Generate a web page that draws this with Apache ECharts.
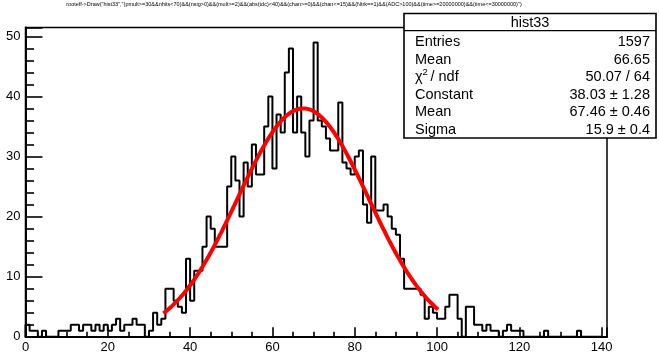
<!DOCTYPE html>
<html><head><meta charset="utf-8">
<script src="https://cdn.jsdelivr.net/npm/echarts@6/dist/echarts.min.js"></script>
<style>html,body{margin:0;padding:0;background:#fff}#c{width:659px;height:354px}</style>
</head><body><div id="c"></div>
<script>
const chartTitle = 'rooteff->Draw("hist33","(pmult>=30&&nhits<70)&&(nsig>0)&&(mult>=2)&&(abs(tdc)<40)&&(chan>=0)&&(chan<=15)&&(Ntrk==1)&&(ADC>100)&&(time>=20000000)&&(time<=30000000)")';
const binLowEdge = 0;
const binWidth = 1;
const counts = [
  2,1,1,0,1,0,0,0,1,1,
  1,2,2,1,2,2,1,2,1,2,
  1,2,3,1,2,2,3,2,2,0,
  1,4,2,3,8,8,6,5,4,13,
  6,11,11,15,20,18,15,15,15,25,
  30,26,20,29,25,32,27,27,35,40,
  28,37,34,44,48,34,40,34,30,36,
  49,36,35,33,31,31,39,29,28,27,
  30,31,22,19,30,21,21,22,20,18,
  17,13,8,8,8,8,7,3,5,4,
  3,3,5,7,7,3,0,5,5,2,
  2,1,2,1,1,0,1,2,1,1,
  1,0,0,0,0,0,1,0,0,0,
  0,0,0,0,1,0,0,0,0,0
];
const xTickLabels = [0,20,40,60,80,100,120,140];
const yTickLabels = [0,10,20,30,40,50];
const xMax = 141.3;
const yMax = 51.5;
const statName = 'hist33';
const statLabels = ['Entries','Mean','χ','Constant','Mean','Sigma'];
const statValues = ['1597','66.65','50.07 / 64','38.03 ± 1.28','67.46 ± 0.46','15.9 ± 0.4'];
const fitConstant = 38.03, fitMean = 67.46, fitSigma = 15.9;
const fitRange = [33.5, 100.3];

const FONT = '"Liberation Sans", Arial, Helvetica, sans-serif';

const histData = [[binLowEdge, 0]];
counts.forEach((v, i) => histData.push([binLowEdge + i * binWidth, v]));
histData.push([binLowEdge + counts.length * binWidth, 0]);

const fitData = [];
for (let x = fitRange[0]; x <= fitRange[1] + 1e-9; x += 0.25) {
  fitData.push([x, fitConstant * Math.exp(-0.5 * Math.pow((x - fitMean) / fitSigma, 2))]);
}

const box = {x: 404, y: 13.5, w: 252, h: 124.5, titleH: 17.2};
const rowY = [42, 59.5, 77, 94.5, 112, 129.5];
const graphics = [
  {type: 'text', x: 294, y: 4.5, z: 20, style: {text: chartTitle, fontSize: 5.5, fontFamily: FONT, fill: '#000', align: 'center', verticalAlign: 'middle'}},
  {type: 'rect', z: 20, shape: {x: box.x, y: box.y, width: box.w, height: box.h}, style: {fill: '#fff', stroke: '#000', lineWidth: 1.6}},
  {type: 'line', z: 21, shape: {x1: box.x, y1: box.y + box.titleH, x2: box.x + box.w, y2: box.y + box.titleH}, style: {stroke: '#000', lineWidth: 1.2}},
  {type: 'text', z: 21, x: box.x + box.w / 2, y: box.y + box.titleH / 2 + 0.5, style: {text: statName, fontSize: 14.5, fontFamily: FONT, fill: '#000', align: 'center', verticalAlign: 'middle'}}
];
statLabels.forEach((t, i) => {
  graphics.push({type: 'text', z: 21, x: 415, y: rowY[i], style: {text: t, fontSize: 14.5, fontFamily: FONT, fill: '#000', align: 'left', verticalAlign: 'middle'}});
  graphics.push({type: 'text', z: 21, x: 650, y: rowY[i], style: {text: statValues[i], fontSize: 14.5, fontFamily: FONT, fill: '#000', align: 'right', verticalAlign: 'middle'}});
});
graphics.push({type: 'text', z: 21, x: 422.5, y: rowY[2] - 5, style: {text: '2', fontSize: 9.5, fontFamily: FONT, fill: '#000', align: 'left', verticalAlign: 'middle'}});
graphics.push({type: 'text', z: 21, x: 430.5, y: rowY[2], style: {text: '/ ndf', fontSize: 14.5, fontFamily: FONT, fill: '#000', align: 'left', verticalAlign: 'middle'}});

const chart = echarts.init(document.getElementById('c'), null, {renderer: 'canvas'});
chart.setOption({
  animation: false,
  backgroundColor: '#fff',
  grid: {left: 25.5, right: 52, top: 27.5, bottom: 17.3, show: true, borderColor: '#000', borderWidth: 1.5, backgroundColor: 'transparent'},
  xAxis: {
    type: 'value', min: 0, max: xMax, interval: 20,
    axisLine: {show: true, onZero: false, lineStyle: {color: '#000', width: 2}},
    axisTick: {show: true, inside: true, length: 9.5, lineStyle: {color: '#000', width: 1.6}},
    minorTick: {show: true, splitNumber: 4, length: 5, lineStyle: {color: '#000', width: 1.6}},
    splitLine: {show: false}, minorSplitLine: {show: false},
    axisLabel: {color: '#000', fontSize: 13, fontFamily: FONT, margin: 4, hideOverlap: false,
      formatter: v => xTickLabels.includes(Math.round(v * 1000) / 1000) ? String(Math.round(v)) : ''}
  },
  yAxis: {
    type: 'value', min: 0, max: yMax, interval: 10,
    axisLine: {show: true, onZero: false, lineStyle: {color: '#000', width: 2}},
    axisTick: {show: true, inside: true, length: 17, lineStyle: {color: '#000', width: 1.6}},
    minorTick: {show: true, splitNumber: 5, length: 8.5, lineStyle: {color: '#000', width: 1.6}},
    splitLine: {show: false}, minorSplitLine: {show: false},
    axisLabel: {color: '#000', fontSize: 13, fontFamily: FONT, margin: 5, hideOverlap: false,
      formatter: v => yTickLabels.includes(Math.round(v * 1000) / 1000) ? String(Math.round(v)) : ''}
  },
  series: [
    {type: 'line', step: 'end', data: histData, symbol: 'none', silent: true, z: 2,
     lineStyle: {color: '#000', width: 2}},
    {type: 'line', data: fitData, symbol: 'none', silent: true, z: 3,
     lineStyle: {color: '#ff0000', width: 4}}
  ],
  graphic: graphics
});
</script>
</body></html>
